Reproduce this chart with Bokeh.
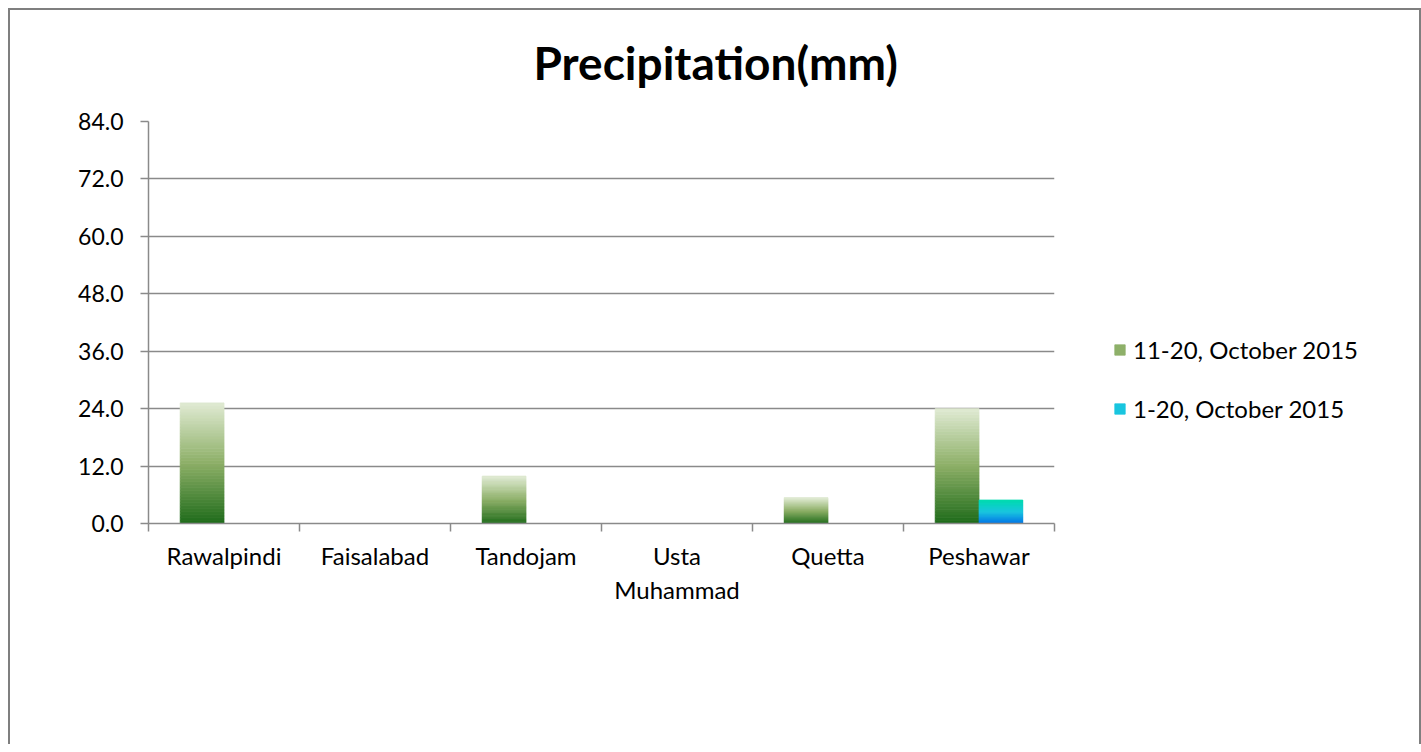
from bokeh.plotting import figure
from bokeh.models import (ColumnDataSource, FixedTicker, PrintfTickFormatter,
                          Legend, LegendItem)
from bokeh.embed import file_html
from bokeh.resources import INLINE

# ---- data ----
stations = ["Rawalpindi", "Faisalabad", "Tandojam", "Usta\nMuhammad", "Quetta", "Peshawar"]
series_names = ["11-20, October 2015", "1-20, October 2015"]
oct_11_20 = [25.2, 0.0, 9.9, 0.0, 5.4, 24.0]
oct_1_20 = [0.0, 0.0, 0.0, 0.0, 0.0, 4.9]
y_ticks = [0, 12, 24, 36, 48, 60, 72, 84]

# ---- styles ----
FONT = "Lato"
green_stops = [(0.0, (0x1e, 0x6b, 0x1a)), (0.5, (0x8c, 0xae, 0x66)), (1.0, (0xe0, 0xeb, 0xd3))]
blue_stops = [(0.0, (0x00, 0x70, 0xe6)), (0.5, (0x1a, 0xc4, 0xe0)), (1.0, (0x00, 0xdb, 0xb0))]
N_SLICES = 40
BAR_W = 0.29


def interp(stops, t):
    for (t0, c0), (t1, c1) in zip(stops[:-1], stops[1:]):
        if t <= t1:
            f = (t - t0) / (t1 - t0) if t1 > t0 else 0
            return "#%02x%02x%02x" % tuple(int(round(a + (b - a) * f)) for a, b in zip(c0, c1))
    return "#%02x%02x%02x" % stops[-1][1]


def gradient_source(values, offset, stops):
    d = dict(left=[], right=[], bottom=[], top=[], color=[])
    for i, v in enumerate(values):
        if v <= 0:
            continue
        cx = i + 0.5 + offset
        for k in range(N_SLICES):
            d["left"].append(cx - BAR_W / 2)
            d["right"].append(cx + BAR_W / 2)
            d["bottom"].append(v * k / N_SLICES)
            d["top"].append(v * (k + 1) / N_SLICES)
            d["color"].append(interp(stops, (k + 0.5) / N_SLICES))
    return ColumnDataSource(d)


p = figure(frame_width=906, frame_height=402, x_range=(0, len(stations)), y_range=(0, 84),
           output_backend="svg", toolbar_location=None,
           min_border_left=148, min_border_right=0, min_border_top=121, min_border_bottom=221)

# outer chart border (left, top, right) drawn as inset shadows behind a transparent canvas
p.border_fill_color = None
p.background_fill_color = None
p.styles = {"background-color": "#ffffff",
            "box-shadow": ("inset 8px 8px 0 0 #ffffff, inset 10px 10px 0 0 #7f7f7f, "
                           "inset 1419px 0 0 0 #ffffff, inset 1421px 0 0 0 #7f7f7f")}

p.title.text = "Precipitation(mm)"
p.title.text_font = FONT
p.title.text_font_size = "46px"
p.title.text_font_style = "bold"
p.title.align = "left"
p.title.offset = 385
p.title.standoff = 64
p.title.text_color = "#000000"

src_g = gradient_source(oct_11_20, -BAR_W / 2, green_stops)
src_b = gradient_source(oct_1_20, BAR_W / 2, blue_stops)
r_g = p.quad(left="left", right="right", bottom="bottom", top="top", fill_color="color",
             line_color="color", line_width=0.8, source=src_g)
r_b = p.quad(left="left", right="right", bottom="bottom", top="top", fill_color="color",
             line_color="color", line_width=0.8, source=src_b)

# axes
p.outline_line_color = None
p.xgrid.visible = False
p.ygrid.ticker = FixedTicker(ticks=y_ticks)
p.ygrid.grid_line_color = "#8a8a8a"
p.ygrid.grid_line_width = 1.5

ya = p.yaxis[0]
ya.ticker = FixedTicker(ticks=y_ticks)
ya.formatter = PrintfTickFormatter(format="%.1f")
ya.axis_line_color = "#8a8a8a"
ya.axis_line_width = 1.5
ya.major_tick_line_color = "#8a8a8a"
ya.major_tick_line_width = 1.5
ya.major_tick_out = 8
ya.major_tick_in = 0
ya.minor_tick_line_color = None
ya.major_label_text_font = FONT
ya.major_label_text_font_size = "23px"
ya.major_label_text_color = "#000000"
ya.major_label_standoff = 17

xa = p.xaxis[0]
centers = [i + 0.5 for i in range(len(stations))]
xa.ticker = FixedTicker(ticks=centers, minor_ticks=list(range(len(stations) + 1)))
xa.major_label_overrides = {c: s for c, s in zip(centers, stations)}
xa.axis_line_color = "#8a8a8a"
xa.axis_line_width = 1.5
xa.major_tick_line_color = None
xa.minor_tick_line_color = "#8a8a8a"
xa.minor_tick_line_width = 1.5
xa.minor_tick_out = 8
xa.minor_tick_in = 0
xa.major_label_text_font = FONT
xa.major_label_text_font_size = "24px"
xa.major_label_text_color = "#000000"
xa.major_label_standoff = 9
xa.major_label_text_line_height = 1.2

legend = Legend(items=[
    LegendItem(label=series_names[0], renderers=[r_g], index=N_SLICES // 2),
    LegendItem(label=series_names[1], renderers=[r_b], index=N_SLICES // 2),
], location=(59, 100))
legend.border_line_color = None
legend.background_fill_color = None
legend.padding = 0
legend.margin = 0
legend.glyph_width = 13
legend.glyph_height = 13
legend.label_height = 24
legend.spacing = 30
legend.label_standoff = 7
legend.label_text_font = FONT
legend.label_text_font_size = "24px"
legend.label_text_color = "#000000"
p.add_layout(legend, "right")

open("out.html", "w").write(file_html(p, INLINE))
